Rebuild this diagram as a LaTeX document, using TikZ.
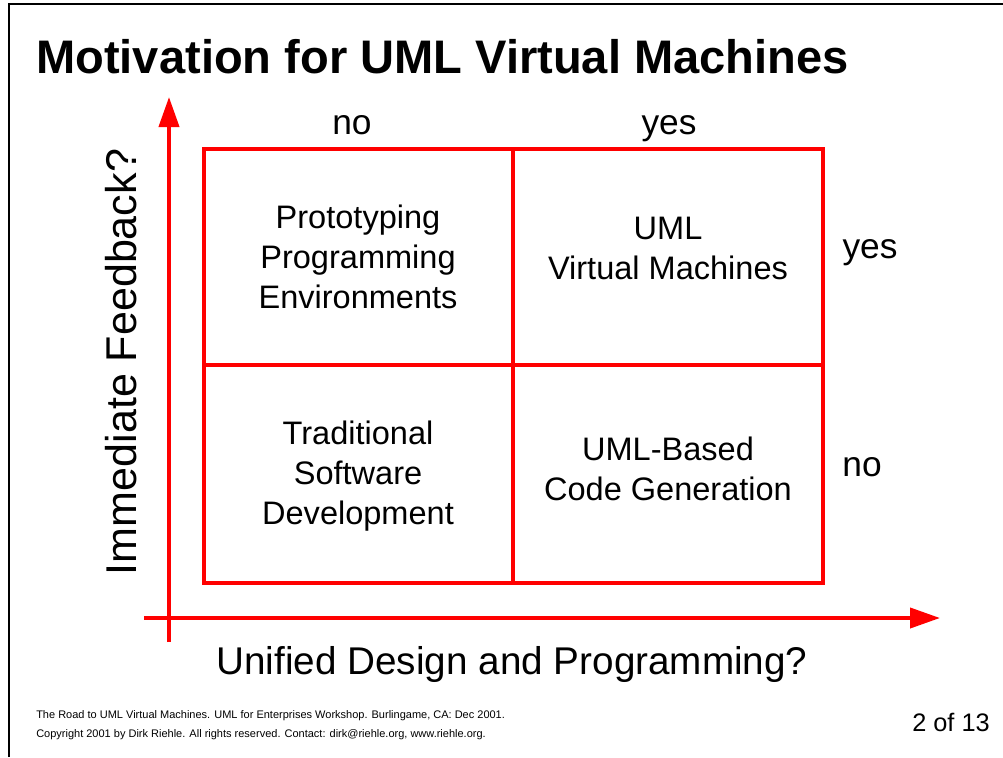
\documentclass[tikz,border=0pt]{standalone}
\usepackage{fontspec}
\setmainfont{Liberation Sans}
\usetikzlibrary{arrows.meta}
\definecolor{axisred}{RGB}{255,0,0}
\tikzset{
  redline/.style={draw=axisred, line width=3pt},
  axisarrow/.style={draw=axisred, line width=3pt, -{Triangle[length=22.5pt,width=15pt]}},
  celltext/.style={align=center, font=\fontsize{24.4}{30}\selectfont, inner sep=0pt},
  ynlabel/.style={anchor=base, font=\fontsize{26.5}{30}\selectfont, inner sep=0pt},
  footer/.style={anchor=base west, font=\fontsize{8.25}{9}\selectfont, inner sep=0pt},
}
\begin{document}
\begin{tikzpicture}[x=0.75pt,y=-0.75pt]
\useasboundingbox (0,0) rectangle (1003,757);
% page frame
\draw[line width=1pt] (9,757) -- (9,4) -- (1003,4);
% title
\node[anchor=base west, inner sep=0pt, font=\bfseries\fontsize{35.3}{40}\selectfont] (title) at (36,73) {Motivation for UML Virtual Machines};
% grid
\coordinate (g1) at (204,149);
\coordinate (g2) at (823,583);
\coordinate (mt) at (513,149);
\coordinate (mb) at (513,583);
\coordinate (ml) at (204,365);
\coordinate (mr) at (823,365);
\draw[redline] (g1) rectangle (g2);
\draw[redline] (mt) -- (mb);
\draw[redline] (ml) -- (mr);
% axes
\coordinate (vbot) at (169,642);
\coordinate (vtop) at (169,97);
\coordinate (hleft) at (144,618);
\coordinate (hright) at (940,618);
\draw[axisarrow] (vbot) -- (vtop);
\draw[axisarrow] (hleft) -- (hright);
% column / row labels
\node[ynlabel] (cno) at (352,134) {no};
\node[ynlabel] (cyes) at (669,134) {yes};
\node[ynlabel] (ryes) at (870,258) {yes};
\node[ynlabel] (rno) at (862,476) {no};
% cell texts
\node[celltext] (tl) at (358,257) {Prototyping\\Programming\\Environments};
\node[celltext] (tr) at (668,248) {UML\\Virtual Machines};
\node[celltext] (bl) at (358,476) {Traditional\\Software\\Development};
\node[celltext] (br) at (668,469) {UML-Based\\Code Generation};
% axis labels
\node[anchor=base, rotate=90, inner sep=0pt, font=\fontsize{32.3}{36}\selectfont] (ylab) at (136,362) {Immediate Feedback?};
\node[anchor=base, inner sep=0pt, font=\fontsize{29}{34}\selectfont] (xlab) at (512,674) {Unified Design and Programming?};
% footer
\node[footer] (f1) at (36,718) {The Road to UML Virtual Machines. UML for Enterprises Workshop. Burlingame, CA: Dec 2001.};
\node[footer] (f2) at (36,737) {Copyright 2001 by Dirk Riehle. All rights reserved. Contact: dirk@riehle.org, www.riehle.org.};
\node[anchor=base east, inner sep=0pt, font=\fontsize{19}{22}\selectfont] (pg) at (990,731) {2 of 13};
\end{tikzpicture}
\end{document}
